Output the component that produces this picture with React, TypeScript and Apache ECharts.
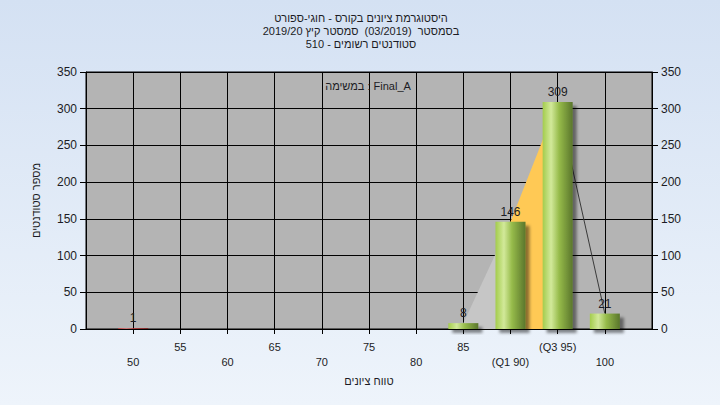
import { useEffect, useRef } from 'react';
import * as echarts from 'echarts';

const titleLines = [
  'היסטוגרמת ציונים בקורס - חוגי-ספורט',
  'בסמסטר  (03/2019)  סמסטר קיץ 2019/20',
  'סטודנטים רשומים - 510',
];
const legendText = 'במשימה : Final_A';
const xAxisTitle = 'טווח ציונים';
const yAxisTitle = 'מספר סטודנטים';

const tickValues = [50, 55, 60, 65, 70, 75, 80, 85, 90, 95, 100];
const tickLabels = ['50', '55', '60', '65', '70', '75', '80', '85', '(Q1 90)', '(Q3 95)', '100'];

const binValues = [50, 85, 90, 95, 100];
const studentCounts = [1, 8, 146, 309, 21];
const failingBins = [50];
const curveStart = 85;
const q1 = 90;
const q3 = 95;

const FONT = '"Liberation Sans", "DejaVu Sans", Arial, sans-serif';
const TXT = '#1c1c24';

const greenGrad = new echarts.graphic.LinearGradient(0, 0, 1, 0, [
  { offset: 0, color: '#a3cc4c' },
  { offset: 0.28, color: '#d2e99a' },
  { offset: 0.55, color: '#96bb4a' },
  { offset: 1, color: '#5a762c' },
]);
const redGrad = new echarts.graphic.LinearGradient(0, 0, 1, 0, [
  { offset: 0, color: '#e04040' },
  { offset: 0.28, color: '#f08080' },
  { offset: 0.55, color: '#c83030' },
  { offset: 1, color: '#801818' },
]);

export default function App() {
  const ref = useRef<HTMLDivElement>(null);
  useEffect(() => {
    if (!ref.current) return;
    const chart = echarts.init(ref.current, null, { renderer: 'svg' });

    const pts = binValues.map((x, i) => [x, studentCounts[i]]).filter((p) => p[0] >= curveStart);
    const seg = (a: number, b: number) => pts.filter((p) => p[0] >= a && p[0] <= b);

    const barData = binValues.map((x, i) => ({
      value: [x, studentCounts[i]],
      itemStyle: { color: failingBins.includes(x) ? redGrad : greenGrad },
    }));

    chart.setOption({
      animation: false,
      grid: {
        left: 86,
        right: 68,
        top: 72,
        bottom: 76,
        show: true,
        backgroundColor: '#b4b4b4',
        borderColor: '#000',
        borderWidth: 1,
      },
      graphic: [
        ...titleLines.map((t, i) => ({
          type: 'text',
          x: 361,
          y: 18 + i * 13,
          style: {
            text: t,
            align: 'center',
            verticalAlign: 'middle',
            fontSize: 11,
            fontFamily: FONT,
            fill: TXT,
          },
        })),
        {
          type: 'text',
          x: 368,
          y: 86,
          z: 100,
          style: {
            text: legendText,
            align: 'center',
            verticalAlign: 'middle',
            fontSize: 11,
            fontFamily: FONT,
            fill: TXT,
          },
        },
      ],
      xAxis: {
        type: 'value',
        min: 45,
        max: 105,
        interval: 5,
        name: xAxisTitle,
        nameLocation: 'middle',
        nameGap: 46,
        nameTextStyle: { fontSize: 11, fontFamily: FONT, color: TXT },
        axisLine: { show: true, lineStyle: { color: '#000', width: 1 } },
        axisTick: { show: true, length: 5, lineStyle: { color: '#000' } },
        splitLine: { show: true, lineStyle: { color: '#000', width: 1 } },
        axisLabel: {
          margin: 10,
          fontSize: 11,
          lineHeight: 15,
          fontFamily: FONT,
          color: TXT,
          showMinLabel: false,
          showMaxLabel: false,
          formatter: (v: number) => {
            const i = tickValues.indexOf(v);
            if (i < 0) return '';
            return i % 2 === 0 ? '\n' + tickLabels[i] : tickLabels[i];
          },
        },
      },
      yAxis: [
        {
          type: 'value',
          min: 0,
          max: 350,
          interval: 50,
          position: 'left',
          name: yAxisTitle,
          nameLocation: 'middle',
          nameRotate: 90,
          nameGap: 45,
          nameTextStyle: { fontSize: 11, fontFamily: FONT, color: TXT },
          axisLine: { show: true, lineStyle: { color: '#000' } },
          axisTick: { show: true, length: 6, lineStyle: { color: '#000' } },
          splitLine: { show: true, lineStyle: { color: '#000', width: 1 } },
          axisLabel: { margin: 9, fontSize: 12, fontFamily: FONT, color: TXT },
        },
        {
          type: 'value',
          min: 0,
          max: 350,
          interval: 50,
          position: 'right',
          axisLine: { show: true, lineStyle: { color: '#000' } },
          axisTick: { show: true, length: 6, lineStyle: { color: '#000' } },
          splitLine: { show: false },
          axisLabel: { margin: 9, fontSize: 12, fontFamily: FONT, color: TXT },
        },
      ],
      series: [
        {
          type: 'line',
          data: seg(curveStart, q1),
          symbol: 'none',
          lineStyle: { width: 0 },
          areaStyle: { color: '#c6c6c6', opacity: 1 },
          z: 1,
        },
        {
          type: 'line',
          data: seg(q1, q3),
          symbol: 'none',
          lineStyle: { width: 0 },
          areaStyle: { color: '#ffc955', opacity: 1 },
          z: 1,
        },
        {
          type: 'line',
          data: seg(q3, 100),
          symbol: 'none',
          lineStyle: { width: 1, color: '#3a3a3a' },
          z: 2,
        },
        {
          type: 'bar',
          data: barData,
          barWidth: 30,
          z: 3,
          itemStyle: {
            shadowColor: 'rgba(0,0,0,0.45)',
            shadowBlur: 3,
            shadowOffsetX: 4,
            shadowOffsetY: 4,
          },
          label: {
            show: true,
            position: 'top',
            distance: 4,
            fontSize: 12,
            fontFamily: FONT,
            color: TXT,
            formatter: (p: any) => String(p.value[1]),
          },
        },
      ],
    });
    return () => chart.dispose();
  }, []);

  return (
    <div
      style={{
        position: 'fixed',
        left: 0,
        top: 0,
        width: 720,
        height: 405,
        background: 'linear-gradient(180deg, #d4e1f3 0%, #eef4fb 100%)',
      }}
    >
      <div ref={ref} style={{ width: 720, height: 405 }} />
    </div>
  );
}
